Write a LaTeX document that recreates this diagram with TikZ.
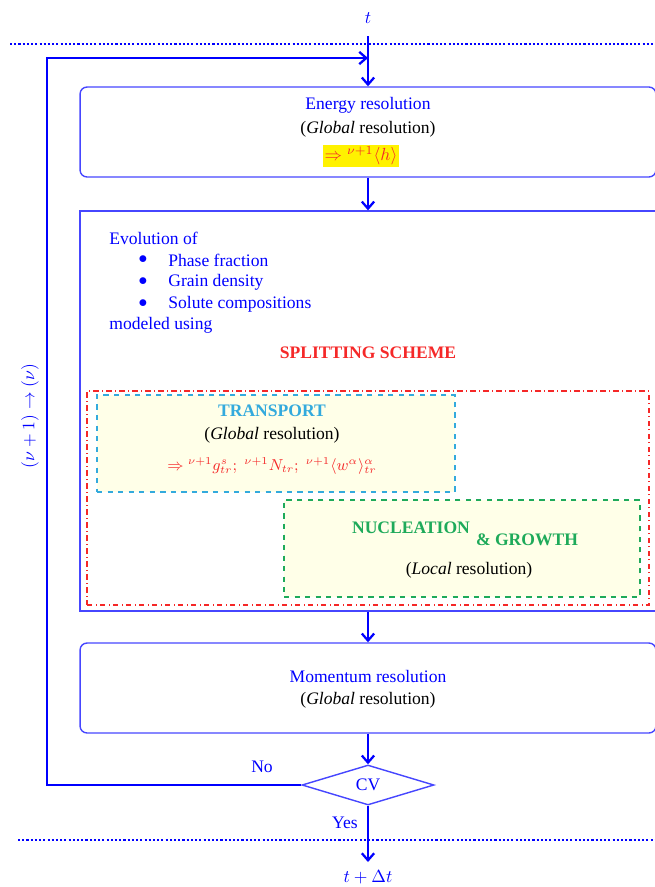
\documentclass[tikz,border=0pt]{standalone}
\usepackage{amsmath, amssymb}
\usepackage{fontspec}
\setmainfont{Liberation Serif}
\usetikzlibrary{shapes.geometric, arrows.meta}
\definecolor{flowblue}{RGB}{0,0,255}
\definecolor{boxblue}{RGB}{70,70,255}
\definecolor{transblue}{RGB}{51,170,221}
\definecolor{nuclgreen}{RGB}{30,170,90}
\definecolor{splitred}{RGB}{245,40,40}
\definecolor{paleyellow}{RGB}{255,255,232}

\begin{document}
\begin{tikzpicture}[x=0.02cm, y=-0.02cm,
  flow/.style={draw=flowblue, line width=1.3pt, -{Straight Barb[length=4pt,width=7pt]}},
  stage/.style={draw=boxblue, line width=0.8pt, rounded corners=4pt, minimum width=11.52cm, minimum height=1.8cm},
  subbox/.style={dashed, line width=0.7pt, fill=paleyellow, minimum width=7.16cm, minimum height=1.94cm},
  timeline/.style={flowblue, line width=1.3pt, dash pattern=on 1.2pt off 1.2pt},
  txt/.style={inner sep=0pt, text=flowblue},
  plain/.style={inner sep=0pt}]
\useasboundingbox (0,0) rectangle (655,887);

% Time step limits
\node[txt] (t) at (368,18) {$t$};
\coordinate (start) at (368,36);
\coordinate (join) at (368,58);
\draw[timeline] (10,44) -- (655,44);
\draw[timeline] (18,840) -- (655,840);

% Energy resolution
\node[stage] (energy) at (368,132) {};
\node[txt] (energyT) at (368,105) {Energy resolution};
\node[plain] (energyG) at (368,129) {(\textit{Global} resolution)};
\node[fill=yellow, text=splitred, inner sep=1pt] (energyH) at (361,156) {$\Rightarrow {}^{\nu+1}\langle h\rangle$};

% Evolution of the microstructure
\node[draw=boxblue, line width=0.8pt, minimum width=11.52cm, minimum height=8cm] (evol) at (368,411) {};
\node[txt, anchor=west] (evolT) at (109,238) {Evolution of};
\foreach \y/\what in {260/Phase fraction, 282/Grain density, 304/Solute compositions} {
    \node[txt] at (143,\y) {$\bullet$};
    \node[txt, anchor=west] at (168,\y) {\what};
}
\node[txt, anchor=west] (modeled) at (109,325) {modeled using};
\node[plain, font=\bfseries, text=splitred] (split) at (368,353) {SPLITTING SCHEME};

% Splitting scheme
\node[draw=splitred, dash dot, line width=0.7pt, minimum width=11.24cm, minimum height=4.28cm] (scheme) at (368,498) {};
\node[subbox, draw=transblue] (transport) at (276,443.5) {};
\node[plain, font=\bfseries, text=transblue] (transT) at (272,411) {TRANSPORT};
\node[plain] (transG) at (272,435) {(\textit{Global} resolution)};
\node[plain, text=splitred, font=\small] (transH) at (272,466) {$\Rightarrow {}^{\nu+1}g^{s}_{tr};\; {}^{\nu+1}N_{tr};\; {}^{\nu+1}\langle w^{\alpha}\rangle^{\alpha}_{tr}$};
\node[subbox, draw=nuclgreen, minimum width=7.12cm] (nucleation) at (462,548.5) {};
\node[plain, font=\bfseries, text=nuclgreen] (nuclT) at (411,528) {NUCLEATION};
\node[plain, font=\bfseries, text=nuclgreen] (growT) at (527,540) {\& GROWTH};
\node[plain] (nuclL) at (469,570) {(\textit{Local} resolution)};

% Momentum resolution
\node[stage] (momentum) at (368,688) {};
\node[txt] (momT) at (368,676) {Momentum resolution};
\node[plain] (momG) at (368,700) {(\textit{Global} resolution)};

% Convergence test
\node[diamond, draw=boxblue, line width=0.8pt, minimum width=2.64cm, minimum height=0.8cm, inner sep=0pt, text=flowblue] (cv) at (368,785) {CV};
\coordinate (back) at (47,58);
\coordinate (out) at (368,862);

\draw[flow] (start) -- (energy.north);
\draw[flow] (energy.south) -- (evol.north);
\draw[flow] (evol.south) -- (momentum.north);
\draw[flow] (momentum.south) -- (cv.north);
\draw[flow] (cv.west) -| (back) -- (join);
\draw[flow] (cv.south) -- (out);

\node[txt] (no) at (262,767) {No};
\node[txt] (yes) at (345,823) {Yes};
\node[txt] (tdt) at (368,877) {$t+\Delta t$};
\node[txt, rotate=90] (iter) at (30,416) {$(\nu+1)\rightarrow(\nu)$};
\end{tikzpicture}
\end{document}
